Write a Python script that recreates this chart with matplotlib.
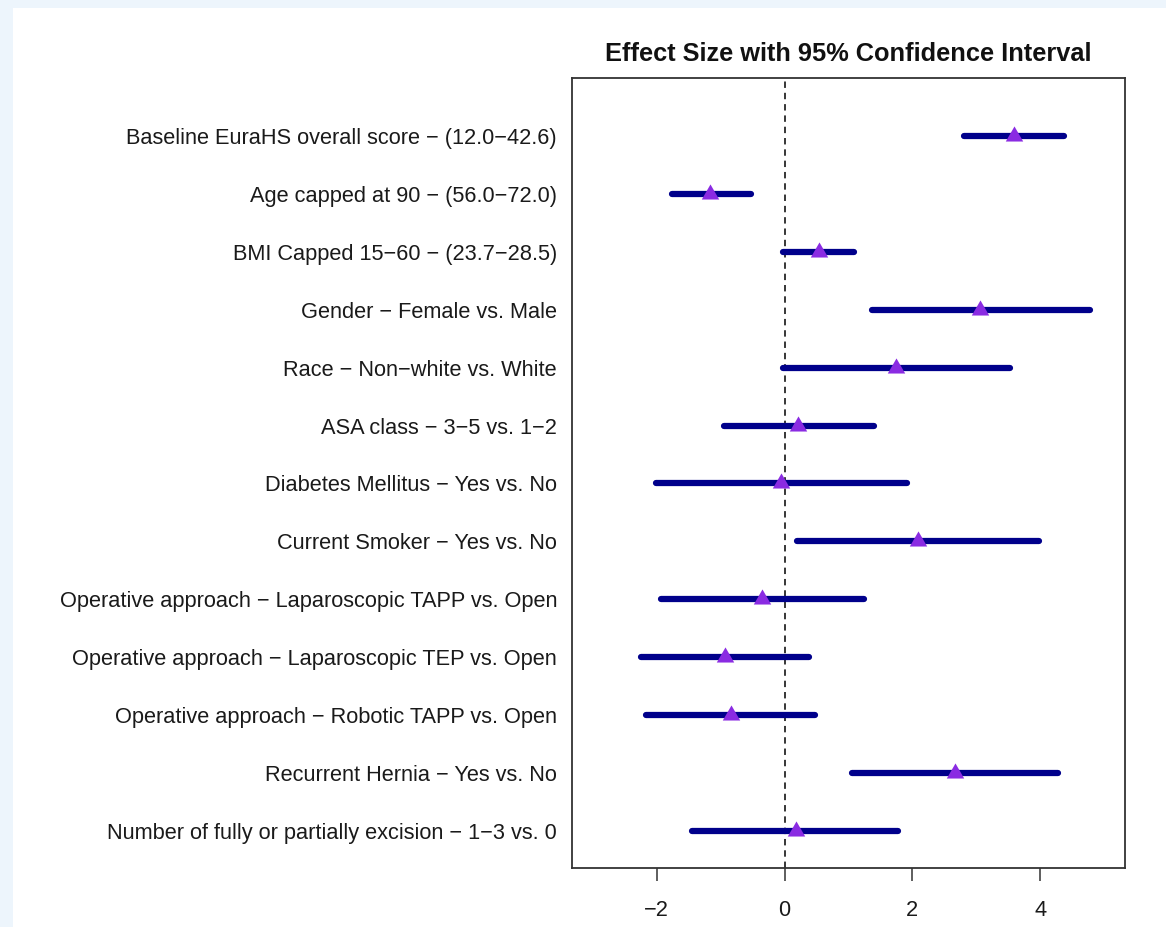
import matplotlib
matplotlib.use("Agg")
import matplotlib.pyplot as plt
from matplotlib.patches import Rectangle

plt.rcParams['font.family'] = ['Liberation Sans', 'DejaVu Sans']

# Forest plot data: one row per covariate, top to bottom
labels = [
    "Baseline EuraHS overall score \u2212 (12.0\u221242.6)",
    "Age capped at 90 \u2212 (56.0\u221272.0)",
    "BMI Capped 15\u221260 \u2212 (23.7\u221228.5)",
    "Gender \u2212 Female vs. Male",
    "Race \u2212 Non\u2212white vs. White",
    "ASA class \u2212 3\u22125 vs. 1\u22122",
    "Diabetes Mellitus \u2212 Yes vs. No",
    "Current Smoker \u2212 Yes vs. No",
    "Operative approach \u2212 Laparoscopic TAPP vs. Open",
    "Operative approach \u2212 Laparoscopic TEP vs. Open",
    "Operative approach \u2212 Robotic TAPP vs. Open",
    "Recurrent Hernia \u2212 Yes vs. No",
    "Number of fully or partially excision \u2212 1\u22123 vs. 0",
]
estimate = [3.59, -1.16, 0.54, 3.06, 1.75, 0.21, -0.05, 2.08, -0.35, -0.93, -0.84, 2.66, 0.18]
lower = [2.80, -1.76, -0.02, 1.37, -0.02, -0.94, -2.01, 0.19, -1.94, -2.25, -2.16, 1.05, -1.44]
upper = [4.37, -0.53, 1.08, 4.78, 3.53, 1.40, 1.91, 3.98, 1.25, 0.38, 0.48, 4.28, 1.78]
xticks = [-2, 0, 2, 4]

W, H = 1166, 927
fig = plt.figure(figsize=(W / 100, H / 100), dpi=100)
fig.patch.set_facecolor("#EDF5FC")
# white page panel
fig.patches.append(Rectangle((13 / W, 0), 1 - 13 / W, 1 - 8 / H,
                             transform=fig.transFigure, facecolor="white",
                             edgecolor="none", zorder=-10))

left, right, top, bottom = 572.3, 1124.7, 78, 868
ax = fig.add_axes([left / W, 1 - bottom / H, (right - left) / W, (bottom - top) / H])
ax.set_facecolor("white")

n = len(labels)
ypos = [n - i for i in range(n)]

ax.axvline(0, color="black", lw=1.1, dashes=(4.2, 3.2), zorder=1)
for y, lo, hi in zip(ypos, lower, upper):
    ax.plot([lo, hi], [y, y], color="#00008B", lw=4.5, solid_capstyle="round", zorder=2)

tri = [(0, 1.1547), (-1, -0.57735), (1, -0.57735)]
ax.plot(estimate, ypos, linestyle="none", marker=tri, markersize=14.5,
        color="#8A2BE2", markeredgewidth=0, zorder=3)

ax.set_xlim(-3.32, 5.32)
ax.set_ylim(0.36, 14.0)
ax.set_xticks(xticks)
ax.set_xticklabels([("\u2212" + str(-t)) if t < 0 else str(t) for t in xticks])
ax.set_yticks(ypos)
ax.set_yticklabels(labels)
ax.tick_params(axis="x", length=9, width=1.1, color="#333333", pad=14,
               labelsize=15.7, labelcolor="#1a1a1a")
ax.tick_params(axis="y", length=0, pad=11, labelsize=15.7, labelcolor="#1a1a1a")
for s in ax.spines.values():
    s.set_color("#333333")
    s.set_linewidth(1.3)

ax.set_title("Effect Size with 95% Confidence Interval", fontsize=18.3,
             fontweight="bold", pad=12, color="#111111")

fig.savefig("out.png", dpi=100)
